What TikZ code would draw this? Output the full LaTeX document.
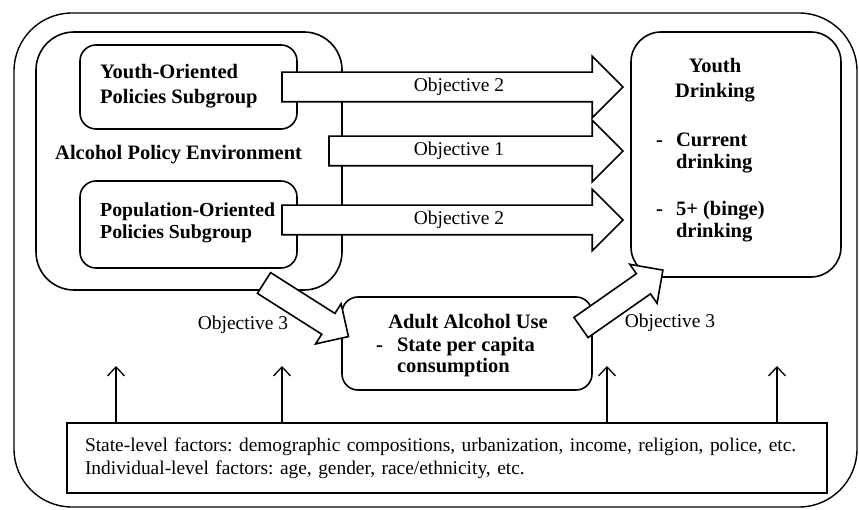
\documentclass[tikz,border=0pt]{standalone}
\usepackage{fontspec}
\setmainfont{Liberation Serif}
\frenchspacing
\usetikzlibrary{arrows.meta,shapes.arrows}
\tikzstyle{frame}=[draw, line width=1.4pt, rounded corners=58pt]
\tikzstyle{group box}=[draw, line width=1.6pt, rounded corners=38pt, inner sep=0pt, outer sep=0pt]
\tikzstyle{sub box}=[draw, line width=1.6pt, rounded corners=16pt, inner sep=0pt, outer sep=0pt, fill=white]
\tikzstyle{title text}=[font=\fontsize{20.5}{25}\selectfont\bfseries, inner sep=0pt]
\tikzstyle{obj text}=[font=\fontsize{19.5}{23}\selectfont, inner sep=0pt]
\tikzstyle{block arrow}=[single arrow, draw, fill=white, line width=1.6pt
,inner xsep=0pt, inner ysep=14pt, outer sep=0pt
,single arrow head extend=16pt, anchor=tail
]
\tikzstyle{thin block arrow}=[block arrow, inner ysep=11.5pt, single arrow head extend=11.5pt]
\tikzstyle{up arrow}=[draw, line width=1.3pt, -{Straight Barb[length=9pt,width=17pt]}]

\begin{document}
\begin{tikzpicture}[x=1pt,y=-1pt]
    \useasboundingbox (0,0) rectangle (859,510);
    % Outer frame
    \draw[frame] (14,13) rectangle (857,507);

    % First the boxes
    \node[group box, minimum width=306pt, minimum height=258pt] (env) at (189,161) {};
    \node[sub box, minimum width=217pt, minimum height=84pt] (youthpol) at (188.5,87) {};
    \node[sub box, minimum width=217pt, minimum height=87pt] (poppol) at (188.5,224.5) {};
    \node[sub box, rounded corners=30pt, minimum width=210pt, minimum height=245pt] (youthdr) at (736,154.5) {};
    \node[sub box, minimum width=250pt, minimum height=93pt] (adult) at (467,343.5) {};
    \node[draw, line width=1.6pt, minimum width=760pt, minimum height=70pt, inner xsep=18pt
        ,text width=724pt, align=left, font=\fontsize{19.4}{23}\selectfont] (factors) at (447,458)
        {State-level factors: demographic compositions, urbanization, income, religion, police, etc.\\
         Individual-level factors: age, gender, race/ethnicity, etc.};

    % Texts of the boxes
    \node[title text, align=left, anchor=north west] (youthpol_t) at (100,64) {Youth-Oriented\\Policies Subgroup};
    \node[title text, anchor=base west] (env_t) at (55,160) {Alcohol Policy Environment};
    \node[title text, align=left, anchor=north west, font=\fontsize{19.8}{22}\selectfont\bfseries] (poppol_t) at (100,202.5) {Population-Oriented\\Policies Subgroup};
    \node[title text, align=center, anchor=north] (youthdr_t) at (715,58) {Youth\\Drinking};
    \node[title text, anchor=north west, font=\fontsize{20.5}{22}\selectfont\bfseries] (youthdr_l) at (656,130.6)
        {\begin{tabular}{@{}l@{\hspace{13pt}}l@{}}
         - & Current\\ & drinking\\[25pt]
         - & 5+ (binge)\\ & drinking
         \end{tabular}};
    \node[title text, anchor=base] (adult_t) at (468,329) {Adult Alcohol Use};
    \node[title text, anchor=north west, font=\fontsize{20.5}{21}\selectfont\bfseries] (adult_l) at (376,336.3)
        {\begin{tabular}{@{}l@{\hspace{14pt}}l@{}}
         - & State per capita\\ & consumption
         \end{tabular}};

    % Block arrows
    \node[block arrow, minimum height=341pt] (obj2a) at (282,87) {};
    \node[block arrow, minimum height=294pt] (obj1) at (329,151) {};
    \node[block arrow, minimum height=341pt] (obj2b) at (282,220) {};
    \node[thin block arrow, rotate=-32.4, minimum height=100pt] (obj3a) at (264,283) {};
    \node[thin block arrow, rotate=35, minimum height=100pt] (obj3b) at (581,327.5) {};

    \node[obj text] (obj2a_t) at (459,87) {Objective 2};
    \node[obj text] (obj1_t) at (459,151) {Objective 1};
    \node[obj text] (obj2b_t) at (459,220) {Objective 2};
    \node[obj text] (obj3a_t) at (243,325) {Objective 3};
    \node[obj text] (obj3b_t) at (670,323) {Objective 3};

    % Arrows from the factors
    \foreach \x/\name in {116/u_1, 282/u_2, 607/u_3, 777/u_4}
        \coordinate (\name) at (\x,366);
    \foreach \name in {u_1, u_2, u_3, u_4}
        \path[up arrow] (\name |- factors.north) -- (\name);
\end{tikzpicture}
\end{document}
